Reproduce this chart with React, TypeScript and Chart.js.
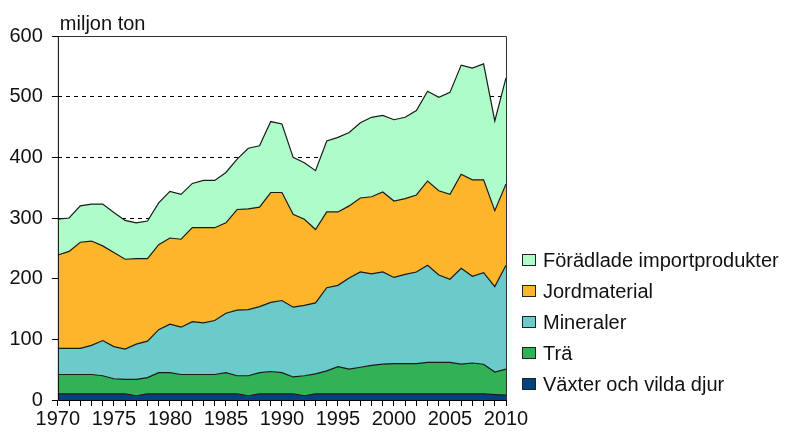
import React, { useEffect, useRef } from "react";
import { Chart, registerables } from "chart.js";

Chart.register(...registerables);

const years: number[] = [];
for (let y = 1970; y <= 2010; y++) years.push(y);

const vaxter = [10,10,10,10,10,10,10,7,10,10,10,10,10,10,10,10,10,7,10,10,10,10,7,10,10,10,10,10,10,10,10,10,10,10,10,10,10,10,10,9,8];
const tra = [32,32,32,32,30,25,24,27,27,35,35,32,32,32,32,35,30,33,35,37,35,28,33,33,38,45,41,44,47,49,50,50,50,52,52,52,49,51,49,37,43];
const mineraler = [43,43,43,48,58,53,50,58,60,71,80,78,87,85,89,98,108,109,109,114,119,115,116,117,137,134,150,157,151,152,142,147,151,160,144,137,158,143,151,141,171];
const jordmaterial = [154,160,175,172,156,155,148,141,136,140,142,145,155,157,153,149,166,166,164,181,178,153,142,121,125,121,119,122,127,132,126,125,127,139,139,140,155,159,153,125,134];
const foradlade = [59,55,60,61,69,66,64,59,62,69,77,74,73,78,78,83,83,100,101,117,113,94,93,97,117,123,121,124,131,126,134,134,139,148,154,168,180,184,191,148,175];

const seriesNames = ["Växter och vilda djur", "Trä", "Mineraler", "Jordmaterial", "Förädlade importprodukter"];
const seriesColors = ["#00427F", "#33B157", "#6BCBCB", "#FDB52B", "#AEFDC8"];
const yTicks = [0, 100, 200, 300, 400, 500, 600];
const unitLabel = "miljon ton";

const FONT = "'Liberation Sans', Arial, sans-serif";

const framePlugin = {
  id: "frame",
  afterDatasetsDraw(chart: any) {
    const { ctx, chartArea: a } = chart;
    ctx.save();
    ctx.lineWidth = 1;
    ctx.strokeStyle = "#333";
    ctx.beginPath();
    ctx.moveTo(a.left, a.top + 0.5);
    ctx.lineTo(a.right + 0.5, a.top + 0.5);
    ctx.lineTo(a.right + 0.5, a.bottom);
    ctx.stroke();
    ctx.strokeStyle = "#000";
    ctx.beginPath();
    ctx.moveTo(a.left + 0.5, a.top);
    ctx.lineTo(a.left + 0.5, a.bottom + 0.5);
    ctx.lineTo(a.right + 0.5, a.bottom + 0.5);
    ctx.stroke();
    ctx.restore();
  },
  afterDraw(chart: any) {
    const { ctx, chartArea: a } = chart;
    ctx.save();
    ctx.fillStyle = "#111";
    ctx.font = `20px ${FONT}`;
    ctx.textBaseline = "alphabetic";
    ctx.textAlign = "left";
    ctx.fillText(unitLabel, a.left + 2, 29.5);
    // legend (reverse order)
    const n = seriesNames.length;
    for (let i = 0; i < n; i++) {
      const idx = n - 1 - i;
      const base = 267 + i * 31;
      const bx = 522, by = base - 13, bw = 13, bh = 11;
      ctx.fillStyle = seriesColors[idx];
      ctx.fillRect(bx, by, bw, bh);
      ctx.strokeStyle = "#222";
      ctx.lineWidth = 1;
      ctx.strokeRect(bx + 0.5, by + 0.5, bw, bh);
      ctx.fillStyle = "#111";
      ctx.fillText(seriesNames[idx], 543, base);
    }
    ctx.restore();
  },
};

export default function App() {
  const ref = useRef<HTMLCanvasElement | null>(null);
  useEffect(() => {
    if (!ref.current) return;
    const data = [vaxter, tra, mineraler, jordmaterial, foradlade];
    const chart = new Chart(ref.current, {
      type: "line",
      data: {
        labels: years.map(String),
        datasets: data.map((d, i) => ({
          label: seriesNames[i],
          data: d,
          backgroundColor: seriesColors[i],
          borderColor: "#1a1a1a",
          borderWidth: 1.2,
          pointRadius: 0,
          tension: 0,
          fill: i === 0 ? "origin" : "-1",
        })),
      },
      options: {
        animation: false,
        responsive: true,
        maintainAspectRatio: false,
        layout: { padding: { left: 0.5, right: 281, top: 36, bottom: 0 } },
        plugins: { legend: { display: false }, tooltip: { enabled: false }, title: { display: false } },
        scales: {
          x: {
            type: "category",
            offset: false,
            border: { display: false },
            grid: { display: true, drawOnChartArea: false, drawTicks: true, tickLength: 6, color: "#000", tickColor: "#000" },
            ticks: {
              autoSkip: false,
              maxRotation: 0,
              minRotation: 0,
              padding: 1,
              color: "#111",
              font: { family: FONT, size: 20 },
              callback: (_v: any, i: number) => (years[i] % 5 === 0 ? String(years[i]) : ""),
            },
          },
          y: {
            stacked: true,
            min: 0,
            max: 600,
            border: { display: false, dash: [4, 4] },
            grid: {
              display: true,
              drawTicks: true,
              tickLength: 6,
              tickColor: "#000",
              color: (c: any) => (c.tick && (c.tick.value === 0 || c.tick.value === 600) ? "rgba(0,0,0,0)" : "#000"),
            },
            afterBuildTicks: (s: any) => { s.ticks = yTicks.map((v) => ({ value: v })); },
            ticks: { padding: 9, color: "#111", font: { family: FONT, size: 20 } },
          },
        },
      },
      plugins: [framePlugin],
    });
    return () => chart.destroy();
  }, []);
  return (
    <div style={{ position: "fixed", left: 0, top: 0, width: 787, height: 432, background: "#fff" }}>
      <canvas ref={ref} />
    </div>
  );
}
